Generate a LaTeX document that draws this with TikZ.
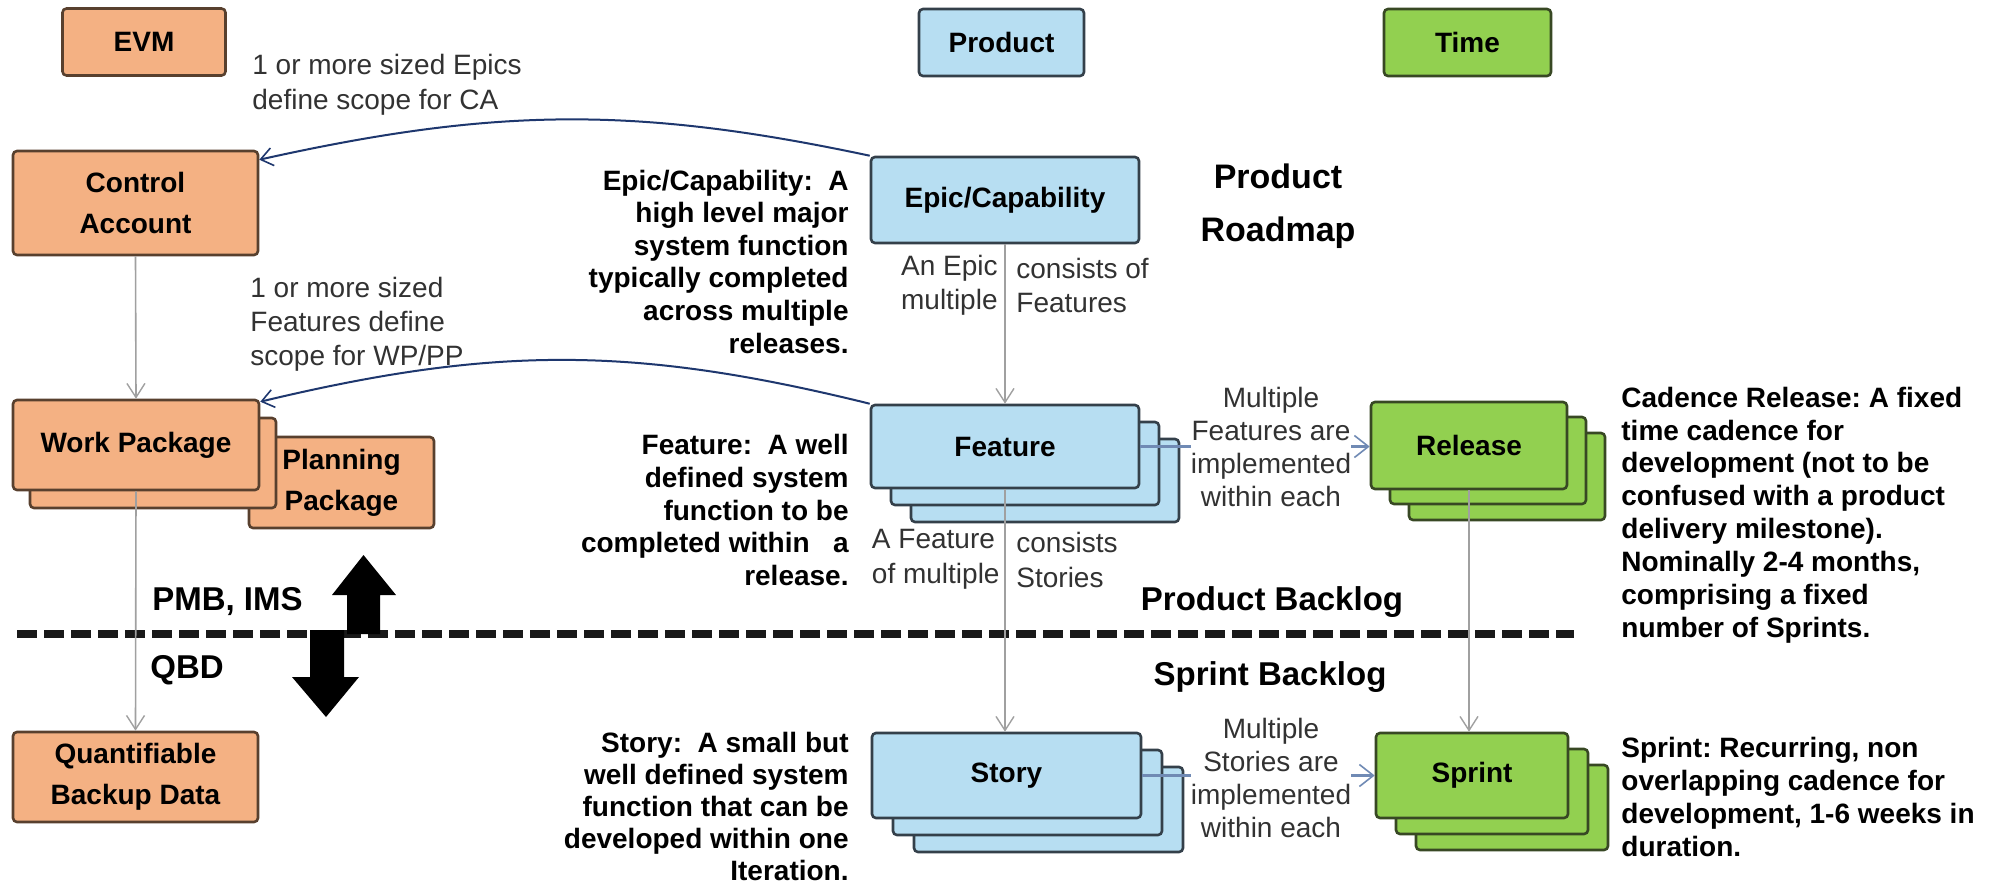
\documentclass[tikz,border=0pt]{standalone}
\usepackage{fontspec}
\setmainfont{Liberation Sans}
\usetikzlibrary{arrows.meta}
\frenchspacing

\definecolor{evmfill}{RGB}{244,177,131}
\definecolor{evmline}{RGB}{88,64,46}
\definecolor{prodfill}{RGB}{183,222,242}
\definecolor{prodline}{RGB}{52,64,74}
\definecolor{timefill}{RGB}{146,208,80}
\definecolor{timeline}{RGB}{56,72,36}
\definecolor{linkgray}{RGB}{160,160,160}
\definecolor{scopeblue}{RGB}{30,55,110}
\definecolor{implblue}{RGB}{112,138,180}
\definecolor{labelgray}{RGB}{50,50,50}

\begin{document}
\begin{tikzpicture}[x=0.5pt,y=-0.5pt,
  box/.style={rectangle, rounded corners=2pt, line width=1.3pt, inner sep=0pt,
    align=center, font=\bfseries\fontsize{14}{20.5}\selectfont},
  evmbox/.style={box, fill=evmfill, draw=evmline},
  prodbox/.style={box, fill=prodfill, draw=prodline},
  timebox/.style={box, fill=timefill, draw=timeline},
  headsize/.style={minimum width=82.5pt, minimum height=33.5pt},
  desc/.style={inner sep=0pt, font=\bfseries\fontsize{14}{16.3}\selectfont},
  note/.style={inner sep=0pt, text=labelgray, font=\fontsize{14}{17}\selectfont},
  bigbold/.style={inner sep=0pt, font=\bfseries\fontsize{16.5}{26.5}\selectfont},
  graylink/.style={draw=linkgray, line width=0.8pt,
    -{Straight Barb[length=7pt,width=9pt,line width=0.7pt]}},
  implink/.style={draw=implblue, line width=1.6pt,
    -{Straight Barb[length=7pt,width=11pt,line width=0.8pt]}},
  scopelink/.style={draw=scopeblue, line width=1pt,
    -{Straight Barb[length=6pt,width=9pt,line width=0.8pt]}}
]
\fill[white] (0,0) rectangle (1992,885);
\useasboundingbox (0,0) rectangle (1992,885);

% column headers
\node[evmbox, headsize, minimum width=81.5pt] (hevm) at (144,42) {EVM};
\node[prodbox, headsize] (hprod) at (1001.5,42.5) {Product};
\node[timebox, headsize, minimum width=83.5pt] (htime) at (1467.5,42.5) {Time};

% EVM column
\node[evmbox, minimum width=122.5pt, minimum height=52pt] (ca) at (135.5,203) {Control\\Account};
\node[evmbox, minimum width=92.5pt, minimum height=45.5pt] (pp) at (341.5,482.5) {Planning\\Package};
\node[evmbox, minimum width=123pt, minimum height=45pt] (wpback) at (153,463) {};
\node[evmbox, minimum width=123pt, minimum height=45pt] (wp) at (136,445) {Work Package};
\node[evmbox, minimum width=122.5pt, minimum height=45pt] (qbd) at (135.5,777) {Quantifiable\\Backup Data};

% product column
\node[prodbox, minimum width=134pt, minimum height=43pt] (epic) at (1005,200) {Epic/Capability};
\node[prodbox, minimum width=134pt, minimum height=41.5pt] (featc) at (1045,480.5) {};
\node[prodbox, minimum width=134pt, minimum height=41.5pt] (featb) at (1025,463.5) {};
\node[prodbox, minimum width=134pt, minimum height=41.5pt] (feat) at (1005,446.5) {Feature};
\node[prodbox, minimum width=134.5pt, minimum height=42.5pt] (storyc) at (1048.5,809.5) {};
\node[prodbox, minimum width=134.5pt, minimum height=42.5pt] (storyb) at (1027.5,792.5) {};
\node[prodbox, minimum width=134.5pt, minimum height=42.5pt] (story) at (1006.5,775.5) {Story};

% time column
\node[timebox, minimum width=98pt, minimum height=43.5pt] (relc) at (1507,476.5) {};
\node[timebox, minimum width=98pt, minimum height=43.5pt] (relb) at (1488,460.5) {};
\node[timebox, minimum width=98pt, minimum height=43.5pt] (rel) at (1469,445.5) {Release};
\node[timebox, minimum width=96pt, minimum height=42.5pt] (sprintc) at (1512,807.5) {};
\node[timebox, minimum width=96pt, minimum height=42.5pt] (sprintb) at (1492,791.5) {};
\node[timebox, minimum width=96pt, minimum height=42.5pt] (sprint) at (1472,775.5) {Sprint};

% backlog boundary
\coordinate (dl) at (17,634);
\coordinate (dr) at (1574,634);
\draw[black!90, line width=4pt, dash pattern=on 10pt off 3.5pt] (dl) -- (dr);

% block arrows across the boundary
\fill[black] (347,634) -- (347,595) -- (332,595) -- (363.5,555) -- (396,595)
  -- (380,595) -- (380,634) -- cycle;
\fill[black] (310,630) -- (310,677) -- (292,677) -- (326,717) -- (359,677)
  -- (344,677) -- (344,630) -- cycle;

% hierarchy links
\draw[graylink] (ca.south) -- (wp.north);
\draw[graylink] (wp.south) -- (qbd.north);
\draw[graylink] (epic.south) -- (feat.north);
\draw[graylink] (feat.south) -- (feat.south |- story.north);
\draw[graylink] (rel.south) -- (rel.south |- sprint.north);

% implementation links
\draw[implink] (feat.east) -- (feat.east -| rel.west);
\draw[implink] (story.east) -- (story.east -| sprint.west);

% scope links
\draw[scopelink] (epic.north west) .. controls +(-235,-50) and +(234,-52) .. ([yshift=-5pt]ca.north east);
\draw[scopelink] (feat.north west) .. controls +(-235,-58) and +(234,-56) .. ([yshift=-1.5pt]wp.north east);

% link labels
\node[note, anchor=west, align=left, font=\fontsize{14}{17.5}\selectfont] (epicscope) at (252,84.5)
  {1 or more sized Epics\\define scope for CA};
\node[note, anchor=west, align=left] (featscope) at (250,324)
  {1 or more sized\\Features define\\scope for WP/PP};
\node[note, anchor=east, align=left] (epicl) at (998,285) {An Epic\\multiple};
\node[note, anchor=west, align=left] (epicr) at (1016,285) {consists of\\Features};
\node[note, anchor=east, align=left, font=\fontsize{14}{17.5}\selectfont] (featl) at (1000,559.5) {A Feature\\of multiple};
\node[note, anchor=west, align=left, font=\fontsize{14}{17.5}\selectfont] (featr) at (1016,559.5) {consists\\Stories};
\node[note, fill=white, align=center, font=\fontsize{14}{16.5}\selectfont] (featimpl) at (1271,447)
  {Multiple\\Features are\\implemented\\within each};
\node[note, fill=white, align=center, font=\fontsize{14}{16.5}\selectfont] (storyimpl) at (1271,778)
  {Multiple\\Stories are\\implemented\\within each};

% descriptions
\node[desc, anchor=east, align=right] (epicdesc) at (849,261.5)
  {Epic/Capability:\ \ A\\high level major\\system function\\typically completed\\across multiple\\releases.};
\node[desc, anchor=east, align=right] (featdesc) at (849,510)
  {Feature:\ \ A well\\defined system\\function to be\\completed within\ \ \ a\\release.};
\node[desc, anchor=east, align=right, font=\bfseries\fontsize{14}{15.9}\selectfont] (storydesc) at (849,806.5)
  {Story:\ \ A small but\\well defined system\\function that can be\\developed within one\\Iteration.};
\node[desc, anchor=west, align=left, font=\bfseries\fontsize{14}{16.45}\selectfont] (caddesc) at (1621,515)
  {Cadence Release: A fixed\\time cadence for\\development (not to be\\confused with a product\\delivery milestone).\\Nominally 2-4 months,\\comprising a fixed\\number of Sprints.};
\node[desc, anchor=west, align=left, font=\bfseries\fontsize{14}{16.6}\selectfont] (sprintdesc) at (1621,797)
  {Sprint: Recurring, non\\overlapping cadence for\\development, 1-6 weeks in\\duration.};

% section titles
\node[bigbold, align=center, font=\bfseries\fontsize{17}{26.5}\selectfont] (roadmap) at (1278,206.5) {Product\\Roadmap};
\node[bigbold] (pbl) at (1272,602) {Product Backlog};
\node[bigbold] (sbl) at (1270,677) {Sprint Backlog};
\node[bigbold] (pmb) at (227.5,602) {PMB, IMS};
\node[bigbold] (qbdl) at (187,670) {QBD};
\end{tikzpicture}
\end{document}
